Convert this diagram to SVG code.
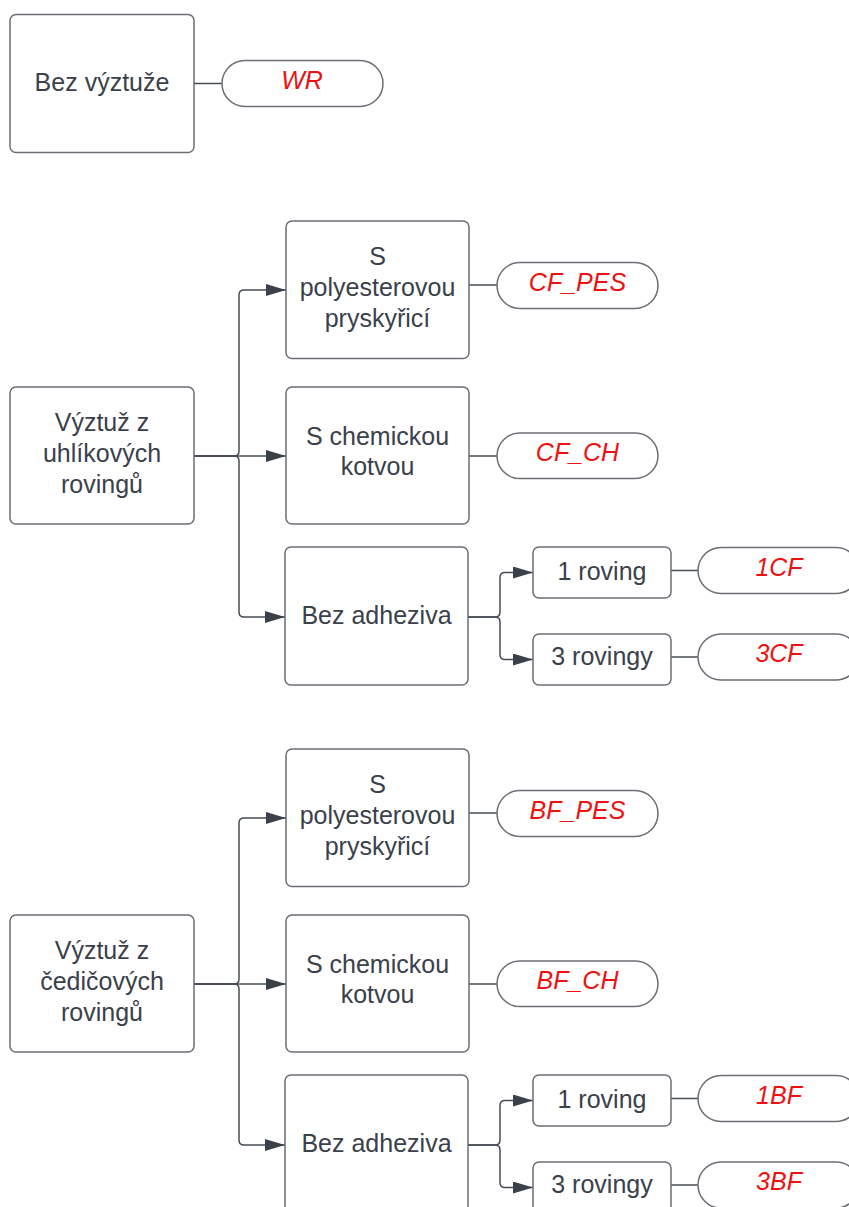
<svg xmlns="http://www.w3.org/2000/svg" width="849" height="1207" viewBox="0 0 849 1207">
<style>
.box{fill:#ffffff;stroke:#6a6f76;stroke-width:1.5}
.pill{fill:#ffffff;stroke:#6a6f76;stroke-width:1.5}
.t{font-family:"Liberation Sans",Arial,sans-serif;font-size:25px;fill:#3a414a;text-anchor:middle}
.r{font-family:"Liberation Sans",Arial,sans-serif;font-size:25px;fill:#ee1111;font-style:italic;text-anchor:middle}
.c{fill:none;stroke:#474e57;stroke-width:1.5}
.ca{fill:none;stroke:#474e57;stroke-width:1.5;marker-end:url(#arr)}
</style>
<defs>
<marker id="arr" viewBox="0 0 20 12" markerWidth="20" markerHeight="12" refX="20" refY="6" orient="auto" markerUnits="userSpaceOnUse">
<path d="M0,0 L20,6 L0,12 z" fill="#3a414a"/>
</marker>
</defs>
<rect width="849" height="1207" fill="#ffffff"/>

<g id="connectors">
<path class="c" d="M194 83.5 H222"/>
<!-- carbon -->
<path class="ca" d="M194 456 H234 Q239 456 239 451 V295 Q239 290 244 290 H286"/>
<path class="ca" d="M194 456 H286"/>
<path class="ca" d="M194 456 H234 Q239 456 239 461 V612 Q239 617 244 617 H285"/>
<path class="c" d="M469 285 H498"/>
<path class="c" d="M469 456 H498"/>
<path class="ca" d="M468 617 H495 Q500 617 500 612 V577.5 Q500 572.5 505 572.5 H533"/>
<path class="ca" d="M468 617 H495 Q500 617 500 622 V654.5 Q500 659.5 505 659.5 H533"/>
<path class="c" d="M671 570.5 H698"/>
<path class="c" d="M671 657 H698"/>
<!-- basalt -->
<path class="ca" d="M194 984 H234 Q239 984 239 979 V823 Q239 818 244 818 H286"/>
<path class="ca" d="M194 984 H286"/>
<path class="ca" d="M194 984 H234 Q239 984 239 989 V1140 Q239 1145 244 1145 H285"/>
<path class="c" d="M469 813 H498"/>
<path class="c" d="M469 984 H498"/>
<path class="ca" d="M468 1145 H495 Q500 1145 500 1140 V1105.5 Q500 1100.5 505 1100.5 H533"/>
<path class="ca" d="M468 1145 H495 Q500 1145 500 1150 V1182.5 Q500 1187.5 505 1187.5 H533"/>
<path class="c" d="M671 1098.5 H698"/>
<path class="c" d="M671 1185 H698"/>
</g>

<g id="n-bez-vyztuze"><rect class="box" x="10" y="14.5" width="184" height="138" rx="6"/><text class="t" x="102" y="91">Bez výztuže</text></g>
<g id="n-wr"><rect class="pill" x="222" y="60.5" width="161" height="46" rx="23"/><text class="r" x="302" y="89">WR</text></g>

<g id="n-cf"><rect class="box" x="10" y="387" width="184" height="137" rx="6"/><text class="t" x="102" y="431">Výztuž z</text><text class="t" x="102" y="462">uhlíkových</text><text class="t" x="102" y="493">rovingů</text></g>
<g id="n-cf-pes-box"><rect class="box" x="286" y="221" width="183" height="137.5" rx="6"/><text class="t" x="377.5" y="265">S</text><text class="t" x="377.5" y="296">polyesterovou</text><text class="t" x="377.5" y="327">pryskyřicí</text></g>
<g id="n-cf-pes"><rect class="pill" x="497" y="262.5" width="161" height="46" rx="23"/><text class="r" x="577.5" y="291">CF_PES</text></g>
<g id="n-cf-ch-box"><rect class="box" x="286" y="387" width="183" height="137" rx="6"/><text class="t" x="377.5" y="445">S chemickou</text><text class="t" x="377.5" y="475">kotvou</text></g>
<g id="n-cf-ch"><rect class="pill" x="497" y="433" width="161" height="45.5" rx="22.75"/><text class="r" x="577.5" y="461">CF_CH</text></g>
<g id="n-cf-bez"><rect class="box" x="285" y="547" width="183" height="138" rx="6"/><text class="t" x="376.5" y="623.5">Bez adheziva</text></g>
<g id="n-cf-1r"><rect class="box" x="533" y="547" width="138" height="51" rx="6"/><text class="t" x="602" y="580">1 roving</text></g>
<g id="n-cf-3r"><rect class="box" x="533" y="634" width="138" height="51" rx="6"/><text class="t" x="602" y="665">3 rovingy</text></g>
<g id="n-1cf"><rect class="pill" x="698" y="547.5" width="161" height="46" rx="23"/><text class="r" x="779" y="576">1CF</text></g>
<g id="n-3cf"><rect class="pill" x="698" y="634" width="161" height="46" rx="23"/><text class="r" x="779" y="662">3CF</text></g>

<g id="n-bf"><rect class="box" x="10" y="915" width="184" height="137" rx="6"/><text class="t" x="102" y="959">Výztuž z</text><text class="t" x="102" y="990">čedičových</text><text class="t" x="102" y="1021">rovingů</text></g>
<g id="n-bf-pes-box"><rect class="box" x="286" y="749" width="183" height="137.5" rx="6"/><text class="t" x="377.5" y="793">S</text><text class="t" x="377.5" y="824">polyesterovou</text><text class="t" x="377.5" y="855">pryskyřicí</text></g>
<g id="n-bf-pes"><rect class="pill" x="497" y="790.5" width="161" height="46" rx="23"/><text class="r" x="577.5" y="819">BF_PES</text></g>
<g id="n-bf-ch-box"><rect class="box" x="286" y="915" width="183" height="137" rx="6"/><text class="t" x="377.5" y="973">S chemickou</text><text class="t" x="377.5" y="1003">kotvou</text></g>
<g id="n-bf-ch"><rect class="pill" x="497" y="961" width="161" height="45.5" rx="22.75"/><text class="r" x="577.5" y="989">BF_CH</text></g>
<g id="n-bf-bez"><rect class="box" x="285" y="1075" width="183" height="138" rx="6"/><text class="t" x="376.5" y="1151.5">Bez adheziva</text></g>
<g id="n-bf-1r"><rect class="box" x="533" y="1075" width="138" height="51" rx="6"/><text class="t" x="602" y="1108">1 roving</text></g>
<g id="n-bf-3r"><rect class="box" x="533" y="1162" width="138" height="51" rx="6"/><text class="t" x="602" y="1193">3 rovingy</text></g>
<g id="n-1bf"><rect class="pill" x="698" y="1075.5" width="161" height="46" rx="23"/><text class="r" x="779" y="1104">1BF</text></g>
<g id="n-3bf"><rect class="pill" x="698" y="1162" width="161" height="46" rx="23"/><text class="r" x="779" y="1190">3BF</text></g>
</svg>
